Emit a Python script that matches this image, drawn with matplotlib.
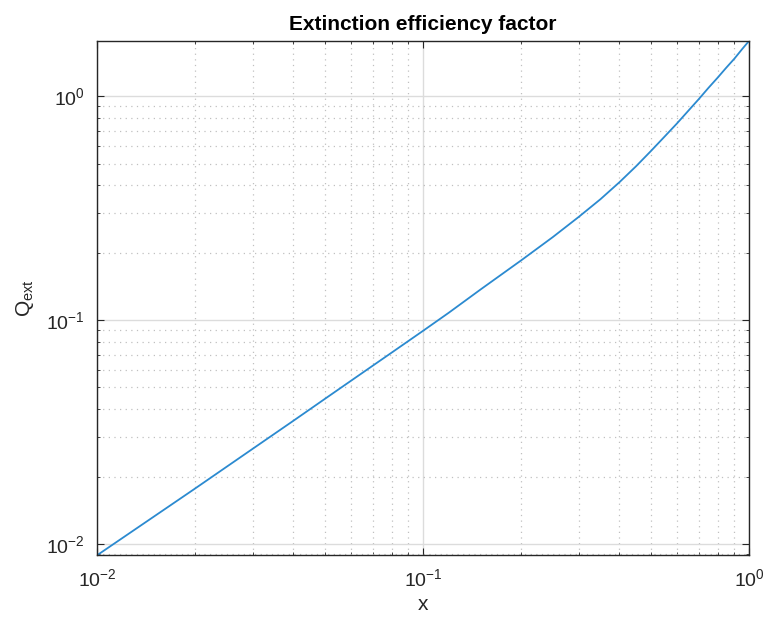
import matplotlib
matplotlib.use('Agg')
import matplotlib.pyplot as plt
from matplotlib.ticker import LogLocator, NullFormatter

# valores (log-log)
x_vals = [0.01, 0.02, 0.03, 0.04, 0.05, 0.06, 0.07, 0.08, 0.1, 0.12, 0.15,
          0.2, 0.25, 0.3, 0.35, 0.4, 0.45, 0.5, 0.55, 0.6, 0.65, 0.7, 0.75,
          0.8, 0.85, 0.9, 0.95, 1.0]
q_ext = [0.0089, 0.0177, 0.0266, 0.0355, 0.0445, 0.0535, 0.0625, 0.0715,
         0.0896, 0.108, 0.137, 0.185, 0.235, 0.289, 0.347, 0.413, 0.487,
         0.570, 0.660, 0.755, 0.860, 0.970, 1.09, 1.21, 1.34, 1.47, 1.62,
         1.77]

plt.rcParams['font.family'] = ['Liberation Sans', 'DejaVu Sans']
plt.rcParams['mathtext.fontset'] = 'custom'
plt.rcParams['mathtext.rm'] = 'Liberation Sans'
plt.rcParams['mathtext.it'] = 'Liberation Sans:italic'
plt.rcParams['mathtext.bf'] = 'Liberation Sans:bold'

txt = '#262626'

fig = plt.figure(figsize=(7.7, 6.17), dpi=100)
ax = fig.add_axes([0.126, 0.100, 0.847, 0.834])

ax.plot(x_vals, q_ext, color='#2b8ad0', lw=1.3)
ax.set_xscale('log')
ax.set_yscale('log')
ax.set_xlim(x_vals[0], x_vals[-1])
ax.set_ylim(min(q_ext), max(q_ext))

ax.yaxis.set_major_locator(LogLocator(base=10, numticks=10))
ax.yaxis.set_minor_locator(LogLocator(base=10, subs=range(2, 10), numticks=20))
ax.xaxis.set_minor_locator(LogLocator(base=10, subs=range(2, 10), numticks=20))
ax.yaxis.set_minor_formatter(NullFormatter())
ax.xaxis.set_minor_formatter(NullFormatter())

ax.grid(True, which='major', color='#dcdcdc', lw=1.0, ls='-')
ax.grid(True, which='minor', color='#c0c0c0', lw=0.9, ls=(0, (1, 3.5)))
ax.set_axisbelow(True)

ax.tick_params(which='both', direction='in', top=True, right=True,
               colors=txt, labelsize=14)
ax.tick_params(which='major', length=5, width=0.8, pad=9)
ax.tick_params(which='minor', length=2.5, width=0.6)
for s in ax.spines.values():
    s.set_color(txt)
    s.set_linewidth(1.0)

ax.set_title('Extinction efficiency factor', fontsize=15, fontweight='bold',
             color='black', pad=8)
ax.set_xlabel('x', fontsize=15, color=txt, labelpad=4)
ax.set_ylabel(r'Q$_{\rm ext}$', fontsize=15, color=txt, labelpad=7)

fig.savefig('out.png', dpi=100)
